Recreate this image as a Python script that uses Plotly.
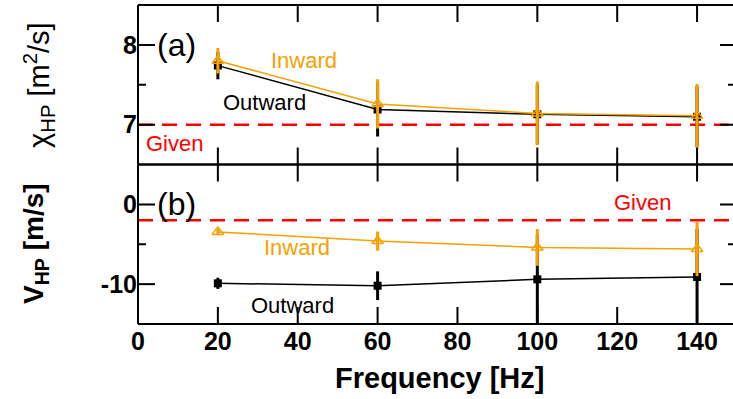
import plotly.graph_objects as go

# ---- data ----
freq = [20, 60, 100, 140]

chi_out = [7.74, 7.19, 7.13, 7.10]
chi_out_err = [0.17, 0.34, 0.38, 0.38]
chi_in = [7.80, 7.26, 7.14, 7.11]
chi_in_err = [0.16, 0.31, 0.40, 0.40]
chi_given = 7.0

v_out = [-9.9, -10.2, -9.4, -9.1]
v_out_err = [0.7, 1.8, 5.6, 6.0]
v_in = [-3.45, -4.6, -5.4, -5.6]
v_in_err = [0.4, 1.2, 2.3, 3.4]
v_given = -2.0

x_ticks = [0, 20, 40, 60, 80, 100, 120, 140]
x_tick_text = ["0", "20", "40", "60", "80", "100", "120", "140"]
chi_ticks = [7, 8]
chi_tick_text = ["7", "8"]
chi_minor = [7.5]
v_ticks = [-10, 0]
v_tick_text = ["-10", "0"]
v_minor = [-5]

BLACK = "#000000"
ORANGE = "#F7A000"
RED = "#FF0000"
FONT = "Liberation Sans, Arial, sans-serif"

W, H = 733, 399
ML, MR, MT, MB = 138, 0, 5, 75
PW = W - ML - MR
PH = H - MT - MB

XMAX = 149
CHI_RANGE = [6.5, 8.5]
V_RANGE = [-15, 5]

fig = go.Figure()

def add_series(xa, ya, y, err, color, symbol, msize, mline):
    fig.add_trace(go.Scatter(
        x=freq, y=y, xaxis=xa, yaxis=ya, mode="lines+markers",
        line=dict(color=color, width=1.5),
        marker=dict(symbol=symbol, size=msize, color=color,
                    line=dict(color=color, width=mline)),
        error_y=dict(type="data", array=err, visible=True, color=color,
                     thickness=3, width=0),
        showlegend=False))

add_series("x", "y", chi_out, chi_out_err, BLACK, "square", 8, 0)
add_series("x", "y", chi_in, chi_in_err, ORANGE, "triangle-up-open", 10, 1.5)
add_series("x2", "y2", v_out, v_out_err, BLACK, "square", 8, 0)
add_series("x2", "y2", v_in, v_in_err, ORANGE, "triangle-up-open", 10, 1.5)

fig.add_shape(type="line", xref="x", yref="y", x0=0, x1=XMAX, y0=chi_given, y1=chi_given,
              line=dict(color=RED, width=2.5, dash="15px,9px"), layer="below")
fig.add_shape(type="line", xref="x2", yref="y2", x0=0, x1=XMAX, y0=v_given, y1=v_given,
              line=dict(color=RED, width=2.5, dash="15px,9px"), layer="below")

tick_line = dict(color=BLACK, width=2)

# panel frames (right side lies past the window edge)
for y0, y1 in [(0.5, 1.0), (0.0, 0.5)]:
    for (xa0, ya0, xa1, ya1) in [(0, y0, 0, y1), (0, y0, 1, y0), (0, y1, 1, y1)]:
        fig.add_shape(type="line", xref="paper", yref="paper",
                      x0=xa0, y0=ya0, x1=xa1, y1=ya1, line=tick_line, layer="above")

# inward tick marks on all sides, positioned through the axes
for xa, ya, yr, yt, ym in [("x", "y", CHI_RANGE, chi_ticks, chi_minor),
                           ("x2", "y2", V_RANGE, v_ticks, v_minor)]:
    for v in x_ticks:
        fig.add_shape(type="line", xref=xa, yref=ya, x0=v, x1=v,
                      ysizemode="pixel", yanchor=yr[0], y0=0, y1=17, line=tick_line,
                      layer="above")
        fig.add_shape(type="line", xref=xa, yref=ya, x0=v, x1=v,
                      ysizemode="pixel", yanchor=yr[1], y0=0, y1=-17, line=tick_line,
                      layer="above")
    for vals, ln, lnr in [(yt, 17, 13), (ym, 8, 5)]:
        for v in vals:
            fig.add_shape(type="line", xref=xa, yref=ya, y0=v, y1=v,
                          xsizemode="pixel", xanchor=0, x0=0, x1=ln, line=tick_line,
                          layer="above")
            fig.add_shape(type="line", xref=xa, yref=ya, y0=v, y1=v,
                          xsizemode="pixel", xanchor=XMAX, x0=0, x1=-lnr,
                          line=tick_line, layer="above")

def bold(lst):
    return ["<b>%s</b>" % t for t in lst]

tickfont = dict(family=FONT, size=25, color=BLACK)
common_x = dict(range=[0, XMAX], tickmode="array", tickvals=x_ticks,
                ticktext=bold(x_tick_text), ticks="", showline=False,
                showgrid=False, zeroline=False, tickfont=tickfont)
common_y = dict(ticks="", showline=False, showgrid=False, zeroline=False,
                tickfont=tickfont, tickmode="array")

fig.update_layout(
    width=W, height=H, autosize=False,
    margin=dict(l=ML, r=MR, t=MT, b=MB),
    paper_bgcolor="white", plot_bgcolor="white",
    font=dict(family=FONT, color=BLACK),
    xaxis=dict(common_x, domain=[0, 1], anchor="y", showticklabels=False),
    xaxis2=dict(common_x, domain=[0, 1], anchor="y2", showticklabels=True),
    yaxis=dict(common_y, domain=[0.5, 1], anchor="x", range=CHI_RANGE,
               tickvals=chi_ticks, ticktext=bold(chi_tick_text)),
    yaxis2=dict(common_y, domain=[0, 0.5], anchor="x2", range=V_RANGE,
                tickvals=v_ticks, ticktext=bold(v_tick_text)),
)

def px_to_paper_x(px):
    return (px - ML) / PW

def px_to_paper_y(py):
    return (H - MB - py) / PH

ann = []
ann.append(dict(text="χ<sub>HP</sub> [m<sup>2</sup>/s]", textangle=-90,
                xref="paper", yref="paper", x=px_to_paper_x(39), y=px_to_paper_y(85),
                xanchor="center", yanchor="middle", showarrow=False,
                font=dict(family=FONT, size=29, color=BLACK)))
ann.append(dict(text="<b>V<sub>HP</sub> [m/s]</b>", textangle=-90,
                xref="paper", yref="paper", x=px_to_paper_x(35), y=px_to_paper_y(244),
                xanchor="center", yanchor="middle", showarrow=False,
                font=dict(family=FONT, size=28, color=BLACK)))
ann.append(dict(text="<b>Frequency [Hz]</b>", xref="paper", yref="paper",
                x=px_to_paper_x(439), y=px_to_paper_y(378),
                xanchor="center", yanchor="middle", showarrow=False,
                font=dict(family=FONT, size=29, color=BLACK)))

def lab(text, xr, yr, x, y, color, size):
    return dict(text=text, xref=xr, yref=yr, x=x, y=y, xanchor="center",
                yanchor="middle", showarrow=False,
                font=dict(family=FONT, size=size, color=color))

ann += [
    lab("(a)", "x", "y", 9.7, 8.0, BLACK, 32),
    lab("Inward", "x", "y", 41.6, 7.81, ORANGE, 22),
    lab("Outward", "x", "y", 31.6, 7.275, BLACK, 22),
    lab("Given", "x", "y", 9.1, 6.76, RED, 22),
    lab("(b)", "x2", "y2", 9.7, 0.0, BLACK, 32),
    lab("Given", "x2", "y2", 126.3, 0.25, RED, 22),
    lab("Inward", "x2", "y2", 39.8, -5.42, ORANGE, 22),
    lab("Outward", "x2", "y2", 38.6, -12.7, BLACK, 22),
]
fig.update_layout(annotations=ann)

fig.write_html("out.html")
